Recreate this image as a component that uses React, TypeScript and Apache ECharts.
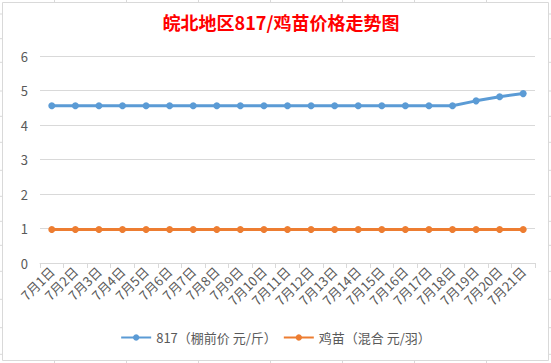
import React, { useEffect, useRef } from "react";
import * as echarts from "echarts";

const titleText = "皖北地区817/鸡苗价格走势图";
const categories = [
  "7月1日", "7月2日", "7月3日", "7月4日", "7月5日", "7月6日", "7月7日",
  "7月8日", "7月9日", "7月10日", "7月11日", "7月12日", "7月13日", "7月14日",
  "7月15日", "7月16日", "7月17日", "7月18日", "7月19日", "7月20日", "7月21日",
];
const seriesNames = ["817（棚前价 元/斤）", "鸡苗（混合 元/羽）"];
const price817 = [
  4.56, 4.56, 4.56, 4.56, 4.56, 4.56, 4.56, 4.56, 4.56, 4.56, 4.56,
  4.56, 4.56, 4.56, 4.56, 4.56, 4.56, 4.56, 4.7, 4.82, 4.91,
];
const priceChick = [
  0.97, 0.97, 0.97, 0.97, 0.97, 0.97, 0.97, 0.97, 0.97, 0.97, 0.97,
  0.97, 0.97, 0.97, 0.97, 0.97, 0.97, 0.97, 0.97, 0.97, 0.97,
];
const yTicks = { min: 0, max: 6, interval: 1 };

// spreadsheet cell grid peeking around the chart frame
const sheetCols = [54, 126, 198, 270, 342, 414, 486];
const sheetRows = [14, 38.7, 62.3, 91, 116.3, 142.3, 170.3, 196.3, 221.3, 245.3, 271.3, 299.3, 327.7, 354.3];

export default function App() {
  const ref = useRef<HTMLDivElement>(null);
  useEffect(() => {
    if (!ref.current) return;
    const chart = echarts.init(ref.current, null, { renderer: "svg" });
    const gridColor = "#d9d9d9";
    const textColor = "#595959";
    const font = "'Noto Sans CJK SC', 'Noto Sans', sans-serif";
    const sheetLines: any[] = [];
    sheetCols.forEach((x) => {
      sheetLines.push({ type: "line", shape: { x1: x + 0.5, y1: 0, x2: x + 0.5, y2: 2 }, style: { stroke: gridColor, lineWidth: 1 } });
      sheetLines.push({ type: "line", shape: { x1: x + 0.5, y1: 361, x2: x + 0.5, y2: 363 }, style: { stroke: gridColor, lineWidth: 1 } });
    });
    sheetRows.forEach((y) => {
      sheetLines.push({ type: "line", shape: { x1: 0, y1: y, x2: 2, y2: y }, style: { stroke: gridColor, lineWidth: 1 } });
      sheetLines.push({ type: "line", shape: { x1: 549, y1: y, x2: 551, y2: y }, style: { stroke: gridColor, lineWidth: 1 } });
    });
    chart.setOption({
      animation: false,
      backgroundColor: "#ffffff",
      title: {
        text: titleText,
        left: 276,
        textAlign: "center",
        top: 8,
        textStyle: { color: "#ff0000", fontSize: 18, fontWeight: "bold", fontFamily: font },
      },
      graphic: [
        {
          type: "rect",
          shape: { x: 2.5, y: 2.5, width: 546, height: 358 },
          style: { fill: "none", stroke: gridColor, lineWidth: 1 },
          z: 10,
        },
        ...sheetLines,
      ],
      legend: {
        bottom: 14,
        left: "center",
        itemWidth: 30,
        itemHeight: 8,
        itemGap: 6,
        data: seriesNames,
        textStyle: { color: textColor, fontSize: 13, fontFamily: font },
      },
      grid: { left: 40, right: 16, top: 56, bottom: 100, containLabel: false },
      xAxis: {
        type: "category",
        data: categories,
        boundaryGap: true,
        axisLine: { lineStyle: { color: gridColor, width: 1 } },
        axisTick: { show: true, length: 5, lineStyle: { color: gridColor } },
        axisLabel: { rotate: 45, color: textColor, fontSize: 13, fontFamily: font, interval: 0, margin: 6 },
      },
      yAxis: {
        type: "value",
        min: yTicks.min,
        max: yTicks.max,
        interval: yTicks.interval,
        axisLine: { show: false },
        axisTick: { show: false },
        splitLine: { lineStyle: { color: gridColor, width: 1 } },
        axisLabel: { color: textColor, fontSize: 13, fontFamily: font, margin: 12 },
      },
      series: [
        {
          name: seriesNames[0],
          type: "line",
          data: price817,
          symbol: "circle",
          symbolSize: 7,
          itemStyle: { color: "#5b9bd5" },
          lineStyle: { color: "#5b9bd5", width: 3 },
        },
        {
          name: seriesNames[1],
          type: "line",
          data: priceChick,
          symbol: "circle",
          symbolSize: 7,
          itemStyle: { color: "#ed7d31" },
          lineStyle: { color: "#ed7d31", width: 3 },
        },
      ],
    });
    return () => chart.dispose();
  }, []);
  return <div ref={ref} style={{ position: "fixed", left: 0, top: 0, width: 551, height: 363 }} />;
}
